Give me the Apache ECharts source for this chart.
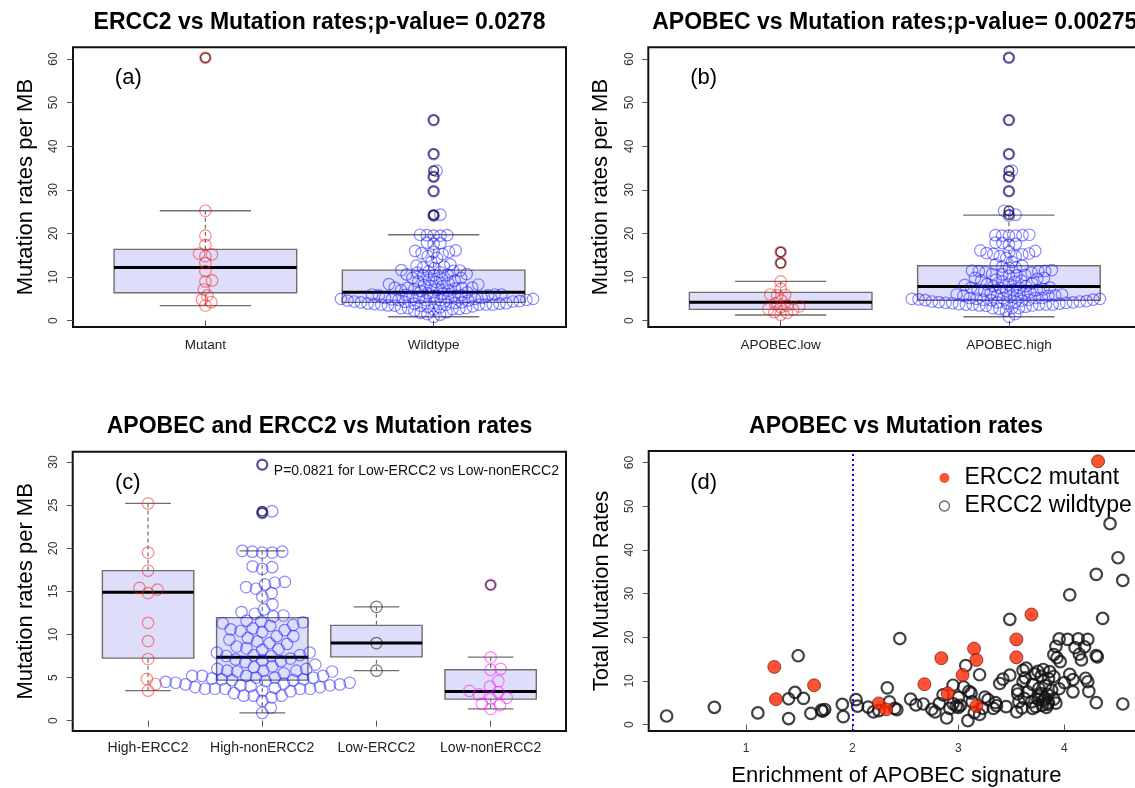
<!DOCTYPE html>
<html><head><meta charset="utf-8">
<script src="https://cdn.jsdelivr.net/npm/echarts@6/dist/echarts.min.js"></script>
<style>html,body{margin:0;padding:0;background:#fff}#c{width:1135px;height:788px}</style>
</head><body><div id="c"></div>
<script>
// ---------------- data ----------------
// ERCC2 mutant samples: APOBEC enrichment and mutation rate per MB
const mutApobec = [4.317, 3.689, 3.547, 3.148, 3.547, 2.84, 3.17, 3.04, 2.68, 2.90, 2.25, 3.17, 2.32, 1.265, 1.64, 1.28];
const mutRate   = [60.3, 25.2, 19.5, 17.4, 15.4, 15.2, 14.8, 11.35, 9.23, 7.15, 4.83, 4.25, 3.48, 13.2, 9.0, 5.8];
// ERCC2 wildtype samples
const wtApobec = [
 0.25,1.915,1.40,1.61,1.11,1.72,1.71,1.74,0.70,1.906,1.40,1.54,1.46,1.49,
 4.43,4.505,4.30,4.55,4.05,3.485,4.36,
 2.448,3.95,4.03,4.13,4.22,3.92,4.10,4.19,3.90,4.14,4.30,4.31,3.93,4.16,3.96,3.07,3.64,3.61,3.75,3.80,3.86,
 3.20,3.485,3.72,3.78,3.90,4.05,3.85,4.08,4.20,3.63,3.42,4.22,3.61,3.39,4.00,3.70,2.95,3.82,3.05,2.33,3.76,3.95,3.88,3.56,3.10,3.65,4.08,4.23,
 2.856,3.84,3.78,3.56,3.12,3.76,3.25,3.00,3.62,3.82,2.55,3.75,3.90,2.035,3.28,3.80,2.35,3.13,3.57,3.69,3.85,4.30,3.35,2.82,2.95,4.55,2.67,3.92,
 3.84,2.60,3.79,3.02,3.36,2.05,2.98,3.73,3.45,2.15,3.00,3.83,3.60,2.40,2.92,3.23,3.33,3.70,2.75,2.42,2.25,2.20,2.78,3.55,3.15,3.20,2.89,3.09
];
const wtRate = [
 1.95,1.8,1.37,2.55,2.65,3.05,3.3,3.45,3.95,4.6,5.9,6.0,7.35,15.75,
 46.0,38.2,34.4,33.0,29.7,24.1,24.3,
 19.7,19.6,19.5,19.6,19.5,17.9,17.6,17.8,16.0,16.1,15.8,15.5,15.3,14.8,14.4,13.5,12.9,12.4,12.2,12.6,12.1,
 11.4,11.3,11.6,11.1,11.0,11.5,10.5,10.3,10.6,10.7,10.4,9.8,9.8,9.4,9.6,9.2,9.0,8.9,8.6,8.4,8.3,8.2,7.9,7.9,7.6,7.5,7.5,7.6,
 6.8,6.9,7.1,7.0,7.2,6.5,6.3,6.2,6.0,6.0,5.8,5.8,5.8,5.7,5.7,5.5,5.2,5.2,5.2,5.2,5.0,5.0,5.0,4.8,4.8,4.7,4.7,4.9,
 4.6,4.5,4.4,4.4,4.3,4.2,4.2,4.1,4.1,4.0,3.9,3.9,3.8,3.7,3.7,3.7,3.7,3.7,3.5,3.4,3.2,2.9,2.9,2.9,2.7,2.3,1.5,0.9
];
const apobecCut = 2;

const catsA = ['Mutant', 'Wildtype'];
const catsB = ['APOBEC.low', 'APOBEC.high'];
const catsC = ['High-ERCC2', 'High-nonERCC2', 'Low-ERCC2', 'Low-nonERCC2'];
const ticks60 = [0, 10, 20, 30, 40, 50, 60];
const ticks30 = [0, 5, 10, 15, 20, 25, 30];
const ticksD = [1, 2, 3, 4];
// box statistics: [lower whisker, Q1, median, Q3, upper whisker]
const boxA = [[3.45, 6.4, 12.2, 16.35, 25.2], [0.9, 4.2, 6.5, 11.6, 19.7]];
const boxB = [[1.3, 2.6, 4.2, 6.5, 9.0], [0.9, 4.7, 7.85, 12.6, 24.2]];
const boxC = [[3.48, 7.25, 14.9, 17.4, 25.2], [0.9, 4.7, 7.35, 11.95, 19.7], [5.8, 7.4, 9.0, 11.05, 13.2], [1.37, 2.5, 3.38, 5.9, 7.37]];

const titles = ['ERCC2 vs Mutation rates;p-value= 0.0278', 'APOBEC vs Mutation rates;p-value= 0.00275',
                'APOBEC and ERCC2 vs Mutation rates', 'APOBEC vs Mutation rates'];
const tags = ['(a)', '(b)', '(c)', '(d)'];
const pNote = 'P=0.0821 for Low-ERCC2 vs Low-nonERCC2';
const yNameBox = 'Mutation rates per MB';
const yNameD = 'Total Mutation Rates';
const xNameD = 'Enrichment of APOBEC signature';
const legendNames = ['ERCC2 mutant', 'ERCC2 wildtype'];

// ---------------- derived groups ----------------
const pick = (vals, keys, f) => vals.filter((v, i) => f(keys[i]));
const mutHigh = pick(mutRate, mutApobec, a => a >= apobecCut);
const mutLow  = pick(mutRate, mutApobec, a => a < apobecCut);
const wtHigh  = pick(wtRate, wtApobec, a => a >= apobecCut);
const wtLow   = pick(wtRate, wtApobec, a => a < apobecCut);
const groupsA = [mutRate, wtRate];
const groupsB = [mutLow.concat(wtLow), mutHigh.concat(wtHigh)];
const groupsC = [mutHigh, wtHigh, mutLow, wtLow];

// ---------------- layout ----------------
const FONT = '"Liberation Sans", Arial, Helvetica, sans-serif';
const L = [
  {left: 73,    top: 47.3,  width: 493,   height: 279.7, xr: [0.42, 2.58], yr: [-1.45, 62.68], s: 6.8},
  {left: 648.3, top: 47.3,  width: 493,   height: 279.7, xr: [0.42, 2.58], yr: [-1.45, 62.68], s: 6.8},
  {left: 72.7,  top: 451.7, width: 493.3, height: 279.3, xr: [0.34, 4.66], yr: [-1.2, 31.2],  s: 10},
  {left: 648.7, top: 451,   width: 495.3, height: 280,   xr: [0.081, 4.75], yr: [-1.48, 62.65]}
];
const RED = 'rgba(255,20,20,0.62)', BLUE = 'rgba(20,20,255,0.62)', DARK = 'rgba(30,30,30,0.75)', MAG = 'rgba(255,0,255,0.62)';

// beeswarm ("swarm", ascending priority), returns pixel offsets
function swarm(vals, pxY, s) {
  const order = vals.map((v, i) => i).sort((a, b) => vals[a] - vals[b]);
  const placed = [], off = new Array(vals.length).fill(0);
  for (const i of order) {
    const py = vals[i] * pxY;
    const near = placed.filter(p => Math.abs(p.py - py) < s);
    const cands = [0];
    near.forEach(p => cands.push(p.x + Math.sqrt(s * s - (p.py - py) ** 2)));
    near.forEach(p => cands.push(p.x - Math.sqrt(s * s - (p.py - py) ** 2)));
    let best = null;
    for (const c of cands) {
      if (best !== null && Math.abs(c) >= Math.abs(best) - 1e-9) continue;
      if (near.every(p => (p.x - c) ** 2 + (p.py - py) ** 2 >= s * s - 1e-3)) best = c;
    }
    off[i] = best;
    placed.push({x: best, py});
  }
  return off;
}

function renderBox(params, api) {
  const x = api.value(0), lo = api.value(1), q1 = api.value(2), md = api.value(3), q3 = api.value(4), hi = api.value(5);
  const c = (a, b) => api.coord([a, b]);
  const tl = c(x - 0.4, q3), br = c(x + 0.4, q1);
  const mL = c(x - 0.4, md), mR = c(x + 0.4, md);
  const top = c(x, hi), bot = c(x, lo), q3c = c(x, q3), q1c = c(x, q1);
  const sTL = c(x - 0.2, hi), sTR = c(x + 0.2, hi), sBL = c(x - 0.2, lo), sBR = c(x + 0.2, lo);
  const gray = '#6e6e6e';
  const ln = (a, b, st) => ({type: 'line', shape: {x1: a[0], y1: a[1], x2: b[0], y2: b[1]}, style: st});
  return {type: 'group', children: [
    ln(top, q3c, {stroke: gray, lineWidth: 1.2, lineDash: [4, 3]}),
    ln(bot, q1c, {stroke: gray, lineWidth: 1.2, lineDash: [4, 3]}),
    ln(sTL, sTR, {stroke: gray, lineWidth: 1.4}),
    ln(sBL, sBR, {stroke: gray, lineWidth: 1.4}),
    {type: 'rect', shape: {x: tl[0], y: tl[1], width: br[0] - tl[0], height: br[1] - tl[1]},
     style: {fill: '#dedefa', stroke: gray, lineWidth: 1.4}},
    ln(mL, mR, {stroke: '#000', lineWidth: 3})
  ]};
}

const grids = [], xAxes = [], yAxes = [], series = [];
L.forEach(g => grids.push({left: g.left, top: g.top, width: g.width, height: g.height, show: true,
  borderColor: '#111', borderWidth: 2, backgroundColor: 'transparent', containLabel: false, outerBoundsMode: 'none'}));

function yAxisFor(k, ticks, name) {
  return {gridIndex: k, type: 'value', min: L[k].yr[0], max: L[k].yr[1],
    axisLine: {show: false}, splitLine: {show: false},
    axisTick: {show: true, customValues: ticks, length: 6, lineStyle: {color: '#555', width: 1}},
    axisLabel: {customValues: ticks, rotate: 90, fontSize: 12, color: '#333', margin: 13, fontFamily: FONT},
    name: name, nameLocation: 'middle', nameRotate: 90, nameGap: 36,
    nameTextStyle: {fontSize: 22, color: '#000', fontFamily: FONT}};
}

function boxPanel(k, cats, boxes, groups, colors) {
  const g = L[k];
  const pxX = g.width / (g.xr[1] - g.xr[0]), pxY = g.height / (g.yr[1] - g.yr[0]);
  const pos = cats.map((_, i) => i + 1);
  xAxes.push({gridIndex: k, type: 'value', min: g.xr[0], max: g.xr[1],
    axisLine: {show: false}, splitLine: {show: false},
    axisTick: {show: true, customValues: pos, length: 6, lineStyle: {color: '#555', width: 1}},
    axisLabel: {customValues: pos, formatter: v => cats[Math.round(v) - 1], fontSize: k === 2 ? 14 : 13.5,
      color: '#222', margin: k === 2 ? 10 : 11, fontFamily: FONT}});
  yAxes.push(yAxisFor(k, k === 2 ? ticks30 : ticks60, yNameBox));
  series.push({type: 'custom', xAxisIndex: k, yAxisIndex: k, z: 1, silent: true, animation: false,
    data: boxes.map((b, i) => [i + 1].concat(b)), encode: {x: 0, y: [1, 2, 3, 4, 5]}, renderItem: renderBox});
  const outl = [];
  groups.forEach((grp, i) => grp.forEach(v => {
    if ((v > boxes[i][4] + 0.06 || v < boxes[i][0] - 0.06) && v <= g.yr[1]) outl.push([i + 1, v]);
  }));
  series.push({type: 'scatter', xAxisIndex: k, yAxisIndex: k, z: 2, silent: true, animation: false,
    symbol: 'circle', symbolSize: 9.5, itemStyle: {color: 'rgba(0,0,0,0)', borderColor: '#1a1a1a', borderWidth: 1.5}, data: outl});
  groups.forEach((grp, i) => {
    const off = swarm(grp, pxY, g.s);
    const pts = grp.map((v, j) => [i + 1 + off[j] / pxX, v]).filter(p => p[1] <= g.yr[1]);
    series.push({type: 'scatter', xAxisIndex: k, yAxisIndex: k, z: 3, silent: true, animation: false,
      symbol: 'circle', symbolSize: 11.5, itemStyle: {color: 'rgba(0,0,0,0)', borderColor: colors[i], borderWidth: 1.2}, data: pts});
  });
}

boxPanel(0, catsA, boxA, groupsA, [RED, BLUE]);
boxPanel(1, catsB, boxB, groupsB, [RED, BLUE]);
boxPanel(2, catsC, boxC, groupsC, [RED, BLUE, DARK, MAG]);

// panel (d) scatter
xAxes.push({gridIndex: 3, type: 'value', min: L[3].xr[0], max: L[3].xr[1],
  axisLine: {show: false}, splitLine: {show: false},
  axisTick: {show: true, customValues: ticksD, length: 6, lineStyle: {color: '#555', width: 1}},
  axisLabel: {customValues: ticksD, fontSize: 12, color: '#333', margin: 12, fontFamily: FONT},
  name: xNameD, nameLocation: 'middle', nameGap: 34, nameTextStyle: {fontSize: 22, color: '#000', fontFamily: FONT}});
yAxes.push(yAxisFor(3, ticks60, yNameD));
series.push({type: 'scatter', name: legendNames[1], xAxisIndex: 3, yAxisIndex: 3, z: 2, silent: true, animation: false,
  symbol: 'circle', symbolSize: 11.5, itemStyle: {color: 'rgba(255,255,255,0)', borderColor: '#111', borderWidth: 2.2},
  data: wtApobec.map((a, i) => [a, wtRate[i]])});
series.push({type: 'scatter', name: legendNames[0], xAxisIndex: 3, yAxisIndex: 3, z: 3, silent: true, animation: false,
  symbol: 'circle', symbolSize: 13, itemStyle: {color: '#ff2600', borderColor: '#5a1000', borderWidth: 0.8},
  data: mutApobec.map((a, i) => [a, mutRate[i]]),
  markLine: {silent: true, animation: false, symbol: 'none', label: {show: false},
    lineStyle: {color: '#0000ff', type: [2, 3], width: 2}, data: [{xAxis: apobecCut}]}});

// texts
const graphic = [];
const titlePos = [[319.5, 23], [894.8, 23], [319.5, 427], [896, 427]];
titles.forEach((t, i) => graphic.push({type: 'text', x: titlePos[i][0], y: titlePos[i][1], silent: true,
  style: {text: t, fontSize: 23, fontWeight: 'bold', fontFamily: FONT, fill: '#000', align: 'center', verticalAlign: 'middle'}}));
const tagPos = [[128.3, 78.3], [703.7, 78.3], [127.8, 483], [703.7, 483]];
tags.forEach((t, i) => graphic.push({type: 'text', x: tagPos[i][0], y: tagPos[i][1], silent: true,
  style: {text: t, fontSize: 22, fontFamily: FONT, fill: '#000', align: 'center', verticalAlign: 'middle'}}));
graphic.push({type: 'text', x: 559, y: 470.7, silent: true,
  style: {text: pNote, fontSize: 14, fontFamily: FONT, fill: '#111', align: 'right', verticalAlign: 'middle'}});

const chart = echarts.init(document.getElementById('c'), null, {renderer: 'canvas'});
chart.setOption({
  animation: false,
  backgroundColor: '#fff',
  textStyle: {fontFamily: FONT},
  grid: grids, xAxis: xAxes, yAxis: yAxes, series: series, graphic: graphic,
  legend: {show: true, orient: 'vertical', left: 938.8, top: 465, padding: 0, itemGap: 2,
    itemWidth: 30, itemHeight: 10, selectedMode: false,
    textStyle: {fontSize: 23, color: '#000', lineHeight: 26, fontFamily: FONT},
    data: [
      {name: legendNames[0], icon: 'circle', itemStyle: {color: '#ff2600', borderWidth: 0}},
      {name: legendNames[1], icon: 'circle', itemStyle: {color: '#fff', borderColor: '#444', borderWidth: 1.3}}
    ]}
});
</script></body></html>
